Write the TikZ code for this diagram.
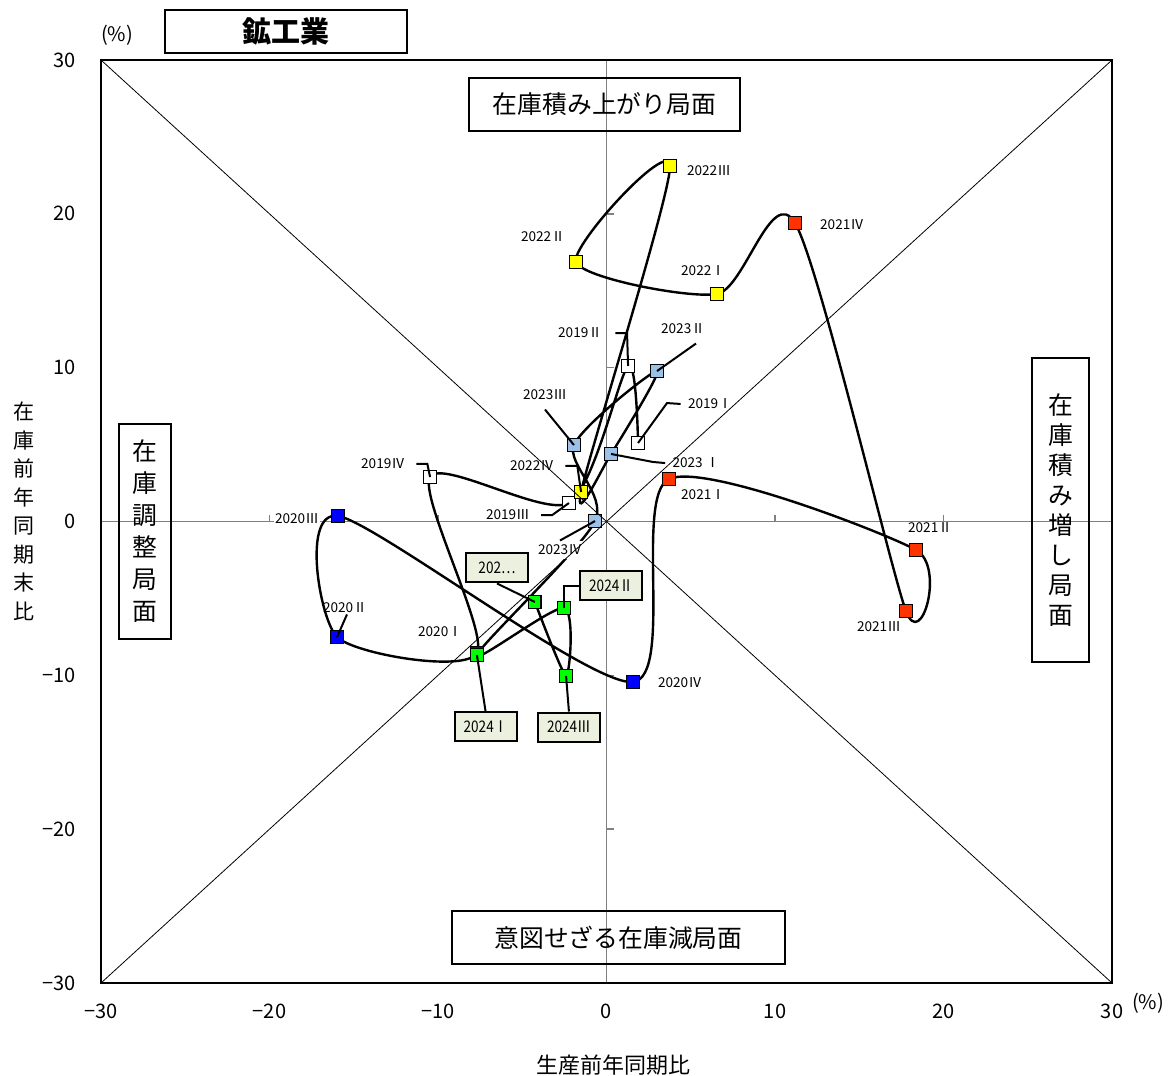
\documentclass[tikz,border=0pt]{standalone}
\usepackage{fontspec}
\setmainfont{Noto Sans CJK JP}
\newfontfamily\narrowfont{Noto Sans CJK JP}[FakeStretch=0.85]
\pgfdeclarelayer{back}
\pgfdeclarelayer{front}
\pgfsetlayers{back,main,front}
\definecolor{c2019}{RGB}{255,255,255}
\definecolor{c2020}{RGB}{0,0,255}
\definecolor{c2021}{RGB}{255,51,0}
\definecolor{c2022}{RGB}{255,255,0}
\definecolor{c2023}{RGB}{155,194,230}
\definecolor{c2024}{RGB}{0,255,0}
\definecolor{tagfill}{RGB}{235,241,222}
\definecolor{axisgray}{RGB}{128,128,128}

\begin{document}
\begin{tikzpicture}[x=8.425pt,y=7.6915pt,
    square node/.style={rectangle,draw,line width=0.8pt,minimum size=6.4pt,inner sep=0pt},
    year label/.style={font=\fontsize{6.8}{8}\selectfont,inner sep=0.5pt},
    tag box/.style={draw,line width=1pt,fill=tagfill,font=\narrowfont\fontsize{8}{9}\selectfont,
                    minimum width=31pt,minimum height=14.5pt,inner sep=1pt},
    phase box/.style={draw,line width=0.7pt,font=\fontsize{12.4}{14}\selectfont},
    leader/.style={line width=1pt},
    tick label/.style={font=\fontsize{10}{12}\selectfont}
  ]
\useasboundingbox (-35.994,-35.981) rectangle (33.323,33.901);

% axes and ticks
\begin{pgfonlayer}{back}
  \draw[axisgray,line width=0.8pt] (-30,0) -- (30,0) (0,-30) -- (0,30);
  \foreach \t in {-20,-10,10,20}
    \draw[axisgray,line width=0.8pt] (\t,0) -- (\t,0.45) (0,\t) -- (0.42,\t);
\end{pgfonlayer}
% frame and diagonals
\begin{pgfonlayer}{front}
  \draw[line width=0.4pt] (-30,-30) -- (30,30) (-30,30) -- (30,-30);
  \draw[line width=1.2pt] (-30,-30) rectangle (30,30);
\end{pgfonlayer}

\foreach \v/\s in {-30/−30,-20/−20,-10/−10,0/0,10/10,20/20,30/30} {
  \node[tick label,anchor=east] (yt\v) at (-31.1,\v) {\s};
  \node[tick label] (xt\v) at (\v,-31.87) {\s};
}
\node[font=\fontsize{10}{12}\selectfont] (pcty) at (-29.05,31.63) {(\%)};
\node[font=\fontsize{10}{12}\selectfont] (pctx) at (32.14,-31.30) {(\%)};

% quarters
\foreach \n/\px/\py/\c in {
  191/1.87/5.10/c2019, 192/1.28/10.11/c2019, 193/-2.23/1.20/c2019, 194/-10.47/2.89/c2019,
  201/-7.69/-8.55/c2020, 202/-15.99/-7.51/c2020, 203/-15.94/0.36/c2020, 204/1.57/-10.43/c2020,
  211/3.71/2.76/c2021, 212/18.37/-1.85/c2021, 213/17.77/-5.82/c2021, 214/11.19/19.40/c2021,
  221/6.56/14.79/c2022, 222/-1.81/16.87/c2022, 223/3.77/23.11/c2022, 224/-1.51/1.92/c2022,
  231/0.27/4.39/c2023, 232/3.00/9.78/c2023, 233/-1.93/4.97/c2023, 234/-0.68/0.03/c2023,
  241/-7.69/-8.68/c2024, 242/-2.52/-5.62/c2024, 243/-2.40/-10.04/c2024, 244/-4.25/-5.23/c2024}
  \node[square node,fill=\c] (p\n) at (\px,\py) {};

\begin{pgfonlayer}{back}
  \draw[line width=1.2pt] plot[smooth,tension=0.45] coordinates {
    (p191.center) (p192.center) (p193.center) (p194.center)
    (p201.center) (p202.center) (p203.center) (p204.center)
    (p211.center) (p212.center) (p213.center) (p214.center)
    (p221.center) (p222.center) (p223.center) (p224.center)
    (p231.center) (p232.center) (p233.center) (p234.center)
    (p241.center) (p242.center) (p243.center) (p244.center)};
\end{pgfonlayer}

\node[year label] (l191) at (6.14,7.64) {2019Ⅰ};
\node[year label] (l192) at (-1.57,12.25) {2019Ⅱ};
\node[year label] (l193) at (-5.85,0.42) {2019Ⅲ};
\node[year label] (l194) at (-13.26,3.74) {2019Ⅳ};
\node[year label] (l201) at (-9.88,-7.18) {2020Ⅰ};
\node[year label] (l202) at (-15.52,-5.62) {2020Ⅱ};
\node[year label,fill=white] (l203) at (-18.37,0.16) {2020Ⅲ};
\node[year label] (l204) at (4.36,-10.50) {2020Ⅳ};
\node[year label] (l211) at (5.73,1.72) {2021Ⅰ};
\node[year label] (l212) at (19.20,-0.39) {2021Ⅱ};
\node[year label] (l213) at (16.17,-6.86) {2021Ⅲ};
\node[year label] (l214) at (13.98,19.27) {2021Ⅳ};
\node[year label] (l221) at (5.73,16.28) {2022Ⅰ};
\node[year label] (l222) at (-3.77,18.49) {2022Ⅱ};
\node[year label] (l223) at (6.08,22.79) {2022Ⅲ};
\node[year label] (l224) at (-4.42,3.61) {2022Ⅳ};
\node[year label] (l231) at (5.31,3.80) {2023\ Ⅰ};
\node[year label] (l232) at (4.54,12.51) {2023Ⅱ};
\node[year label] (l233) at (-3.65,8.22) {2023Ⅲ};
\node[year label,fill=white,inner sep=2pt] (l234) at (-2.76,-1.85) {2023Ⅳ};

\node[tag box] (t241) at (-7.18,-13.33) {2024Ⅰ};
\node[tag box] (t242) at (0.27,-4.16) {2024Ⅱ};
\node[tag box] (t243) at (-2.23,-13.36) {2024Ⅲ};
\node[tag box] (t244) at (-6.50,-3.02) {202…};

% leaders
\draw[leader] (p191.center) -- (3.59,7.70) -- ([xshift=-3pt]l191.west);
\draw[leader] ([xshift=6pt]l192.east) -- (1.22,12.25) -- (p192.center);
\draw[leader] ([xshift=5pt]l193.east) -- ++(5.5pt,0) -- (p193.center);
\draw[leader] ([xshift=5pt]l194.east) -- ++(5.5pt,0) -- (p194.center);
\draw[leader] ([xshift=1pt]l202.south) -- (p202.center);
\draw[leader] ([xshift=5pt]l224.east) -- ++(6pt,0) -- (p224.center);
\draw[leader] (p231.center) -- (2.76,3.87) -- ([xshift=-3pt]l231.west);
\draw[leader] (p232.center) -- ([xshift=6.5pt,yshift=-4pt]l232.south);
\draw[leader] ([yshift=-4pt]l233.south) -- (p233.center);
\draw[leader] (l234.north) -- (p234.center);
\draw[leader] (p241.center) -- (t241.north);
\draw[leader] (p242.center) |- (t242.west);
\draw[leader] (p243.center) -- (t243.north);
\draw[leader] (t244.south) -- (p244.center);

% phases
\node[phase box,minimum width=135.5pt,minimum height=26.5pt] (up) at (-0.12,27.11) {在庫積み上がり局面};
\node[phase box,minimum width=166.5pt,minimum height=26.5pt] (down) at (0.71,-27.04) {意図せざる在庫減局面};
\node[phase box,minimum width=28.5pt,minimum height=152pt,align=center,
      font=\fontsize{12.4}{15}\selectfont] (right) at (26.94,0.75) {在\\庫\\積\\み\\増\\し\\局\\面};
\node[phase box,minimum width=26pt,minimum height=107.5pt,align=center,
      font=\fontsize{12.4}{16}\selectfont] (left) at (-27.39,-0.65) {在\\庫\\調\\整\\局\\面};

% titles
\node[draw,line width=0.8pt,minimum width=121pt,minimum height=21.5pt,
      font=\fontsize{14.5}{16}\selectfont\bfseries] (title) at (-19.02,31.85) {鉱工業};
\node[align=center,font=\fontsize{10.5}{14.25}\selectfont] (ytitle) at (-34.57,0.68) {在\\庫\\前\\年\\同\\期\\末\\比};
\node[font=\fontsize{11}{13}\selectfont] (xtitle) at (0.39,-35.33) {生産前年同期比};
\end{tikzpicture}
\end{document}
